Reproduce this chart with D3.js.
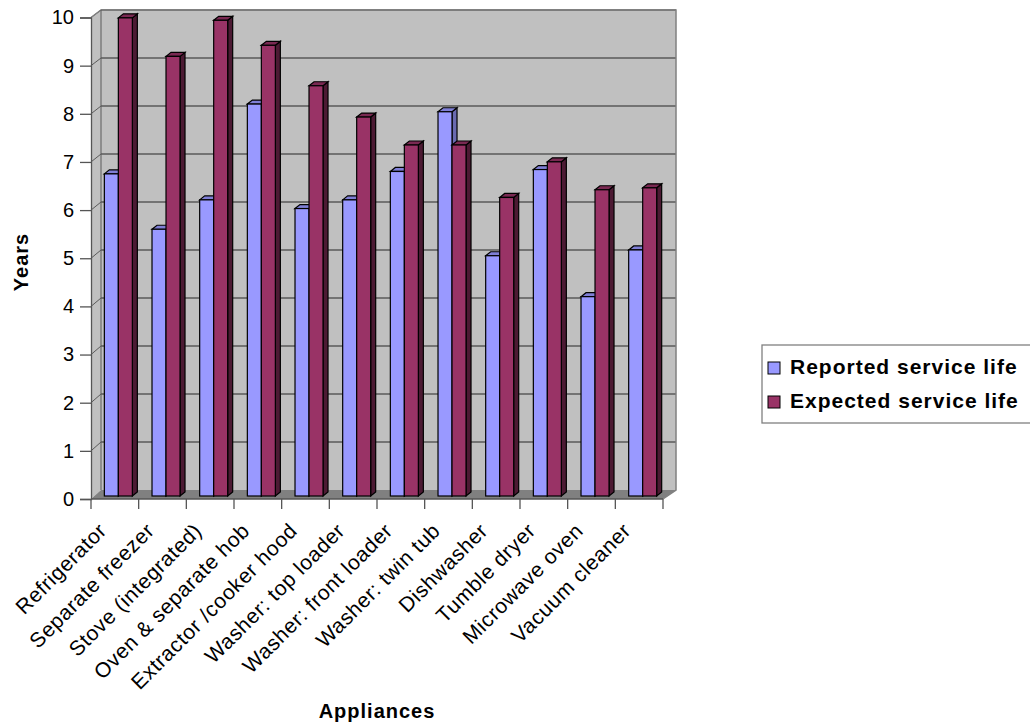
<!DOCTYPE html>
<html>
<head>
<meta charset="utf-8">
<script src="https://cdn.jsdelivr.net/npm/d3@7"></script>
<style>
  html, body { margin: 0; padding: 0; background: #fff; }
  svg { display: block; font-family: "Liberation Sans", Arial, sans-serif; }
</style>
</head>
<body>
<svg id="chart" width="1030" height="728"></svg>
<script>
// Appliance service life, in years
const appliances = [
  "Refrigerator", "Separate freezer", "Stove (integrated)", "Oven & separate hob",
  "Extractor /cooker hood", "Washer: top loader", "Washer: front loader",
  "Washer: twin tub", "Dishwasher", "Tumble dryer", "Microwave oven", "Vacuum cleaner"
];
const seriesNames = ["Reported service life", "Expected service life"];
const reported = [6.69, 5.54, 6.15, 8.14, 5.97, 6.15, 6.74, 7.98, 4.99, 6.78, 4.14, 5.11];
const expected = [9.93, 9.13, 9.88, 9.36, 8.52, 7.87, 7.29, 7.29, 6.20, 6.94, 6.36, 6.40];
const yTicks = [0, 1, 2, 3, 4, 5, 6, 7, 8, 9, 10];

const seriesValues = [reported, expected];
const colors = {
  front: ["#9999ff", "#993366"],
  top:   ["#7f7fd6", "#7a2952"],
  side:  ["#6a6ab0", "#4c1a33"]
};
const FONT = "'Liberation Sans', Arial, sans-serif";

const svg = d3.select("#chart");

// Plot box: front plane and back wall (oblique 3D projection)
const front = { x0: 91, x1: 663, y0: 499, y1: 17.5 };
const back  = { x0: 101, x1: 676, y0: 490, y1: 10 };

const yFront = d3.scaleLinear().domain([0, 10]).range([front.y0, front.y1]);
const yBack  = d3.scaleLinear().domain([0, 10]).range([back.y0, back.y1]);
const yBar   = d3.scaleLinear().domain([0, 10]).range([496, 14.5]);

const xCat = d3.scaleBand().domain(appliances).range([front.x0, front.x1]).padding(0);
const bw = xCat.bandwidth();
const xSeries = d3.scaleBand().domain(seriesNames)
  .range([bw * 0.28, bw * 0.28 + 28]).padding(0);

// Back wall
svg.append("rect")
  .attr("x", back.x0).attr("y", back.y1)
  .attr("width", back.x1 - back.x0).attr("height", back.y0 - back.y1)
  .attr("fill", "#c0c0c0");

// Left side wall
svg.append("polygon")
  .attr("points", [[front.x0, front.y0], [front.x0, front.y1], [back.x0, back.y1], [back.x0, back.y0]].join(" "))
  .attr("fill", "#c0c0c0");

// Floor
svg.append("polygon")
  .attr("points", [[front.x0, front.y0], [back.x0, back.y0], [back.x1, back.y0], [front.x1, front.y0]].join(" "))
  .attr("fill", "#808080");

// Gridlines on back wall and diagonals on side wall
const grid = svg.append("g");
yTicks.filter(v => v > 0).forEach(v => {
  grid.append("line")
    .attr("x1", back.x0).attr("x2", back.x1)
    .attr("y1", yBack(v)).attr("y2", yBack(v))
    .attr("stroke", "#5a5a5a").attr("stroke-width", 1.3);
  grid.append("line")
    .attr("x1", front.x0).attr("x2", back.x0)
    .attr("y1", yFront(v)).attr("y2", yBack(v))
    .attr("stroke", "#5a5a5a").attr("stroke-width", 1);
});

// Wall outline
svg.append("polyline")
  .attr("points", [[front.x0, front.y1], [back.x0, back.y1], [back.x1, back.y1], [back.x1, back.y0], [front.x1, front.y0]].join(" "))
  .attr("fill", "none").attr("stroke", "#808080").attr("stroke-width", 1.5);
svg.append("line")
  .attr("x1", back.x0).attr("x2", back.x0).attr("y1", back.y1).attr("y2", back.y0)
  .attr("stroke", "#5a5a5a").attr("stroke-width", 1);

// Bars
const dx = 5, dy = 4;
const bars = svg.append("g").attr("stroke", "#000").attr("stroke-width", 1.2).attr("stroke-linejoin", "miter");
appliances.forEach((cat, i) => {
  seriesNames.forEach((s, k) => {
    const v = seriesValues[k][i];
    const x = xCat(cat) + xSeries(s);
    const w = xSeries.bandwidth();
    const yt = yBar(v), yb = yBar(0);
    const g = bars.append("g");
    g.append("polygon")
      .attr("points", [[x + w, yt], [x + w + dx, yt - dy], [x + w + dx, yb - dy], [x + w, yb]].join(" "))
      .attr("fill", colors.side[k]);
    g.append("polygon")
      .attr("points", [[x, yt], [x + dx, yt - dy], [x + w + dx, yt - dy], [x + w, yt]].join(" "))
      .attr("fill", colors.top[k]);
    g.append("rect")
      .attr("x", x).attr("y", yt).attr("width", w).attr("height", yb - yt)
      .attr("fill", colors.front[k]);
  });
});

// Y axis
const yAxis = d3.axisLeft(yFront).tickValues(yTicks).tickSize(11).tickPadding(6).tickFormat(d3.format("d"));
const ya = svg.append("g").attr("transform", `translate(${front.x0},0)`).call(yAxis);
ya.attr("font-size", 20).attr("font-family", FONT);
ya.select(".domain").attr("stroke", "#555").attr("stroke-width", 1.3);
ya.selectAll(".tick line").attr("stroke", "#555").attr("stroke-width", 1.3);
ya.selectAll(".tick text").attr("fill", "#000");

// X axis line and category boundary ticks
svg.append("line")
  .attr("x1", front.x0).attr("x2", front.x1).attr("y1", front.y0).attr("y2", front.y0)
  .attr("stroke", "#555").attr("stroke-width", 1.3);
const bounds = appliances.map(c => xCat(c)).concat([front.x1]);
svg.append("g").selectAll("line").data(bounds).join("line")
  .attr("x1", d => d).attr("x2", d => d)
  .attr("y1", front.y0).attr("y2", front.y0 + 10)
  .attr("stroke", "#555").attr("stroke-width", 1.3);

// Category labels
svg.append("g").selectAll("text").data(appliances).join("text")
  .attr("transform", d => `translate(${xCat(d) + bw / 2 - 7},${532}) rotate(-45)`)
  .attr("text-anchor", "end")
  .attr("font-size", 21).attr("letter-spacing", 0.6)
  .text(d => d);

// Axis titles
svg.append("text")
  .attr("transform", "translate(28,262) rotate(-90)")
  .attr("text-anchor", "middle").attr("font-weight", "bold").attr("font-size", 20)
  .attr("letter-spacing", 1)
  .text("Years");
svg.append("text")
  .attr("x", 377).attr("y", 718)
  .attr("text-anchor", "middle").attr("font-weight", "bold").attr("font-size", 20)
  .attr("letter-spacing", 1)
  .text("Appliances");

// Legend
const lg = svg.append("g");
lg.append("rect")
  .attr("x", 762).attr("y", 345).attr("width", 280).attr("height", 78)
  .attr("fill", "#fff").attr("stroke", "#808080").attr("stroke-width", 1.3);
seriesNames.forEach((s, k) => {
  const yc = 367 + k * 34;
  lg.append("rect")
    .attr("x", 768).attr("y", yc - 5).attr("width", 12).attr("height", 12)
    .attr("fill", colors.front[k]).attr("stroke", "#000").attr("stroke-width", 1);
  lg.append("text")
    .attr("x", 790).attr("y", yc + 7)
    .attr("font-size", 21).attr("font-weight", "bold").attr("letter-spacing", 1)
    .text(s);
});
</script>
</body>
</html>
